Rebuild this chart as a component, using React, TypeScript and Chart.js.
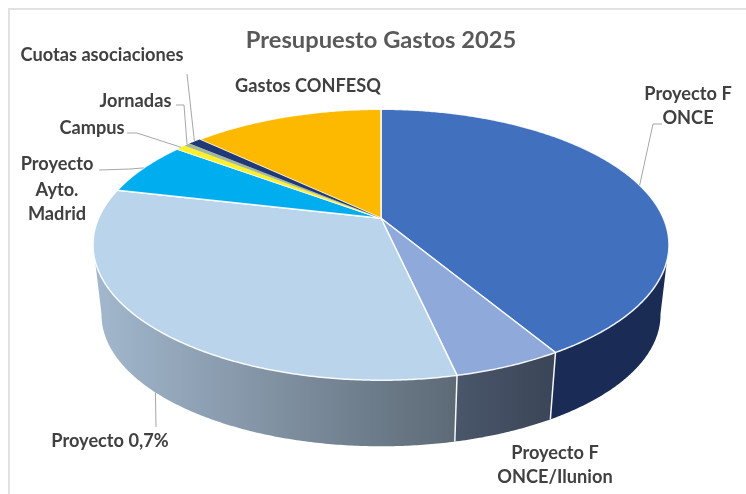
import React, { useEffect, useRef } from "react";
import { Chart, registerables } from "chart.js";

Chart.register(...registerables);

const titleText = "Presupuesto Gastos 2025";
const categories = [
  "Proyecto F ONCE",
  "Proyecto F ONCE/Ilunion",
  "Proyecto 0,7%",
  "Proyecto Ayto. Madrid",
  "Campus",
  "Jornadas",
  "Cuotas asociaciones",
  "Gastos CONFESQ",
];
const shares = [41.4, 5.1, 32.1, 6.5, 0.64, 0.42, 0.83, 13.0];
const topColors = ["#4170BF", "#8FA9DA", "#B9D4EB", "#00AEEF", "#FFF02A", "#A5B89A", "#203A78", "#FDB900"];
const wallColors: [string, string][] = [
  ["#1A2C56", "#1A2C54"],
  ["#4A5669", "#3A4558"],
  ["#A3B8CE", "#5D6A76"],
];

const labelFont = "bold 18.2px Lato";
const labelColor = "#404040";
const leaderColor = "#A6A6A6";

const labelBlocks = [
  { lines: ["Proyecto F", "ONCE"], x: 688, y: [94, 118], slice: 0 },
  { lines: ["Proyecto F", "ONCE/Ilunion"], x: 555, y: [453, 477], slice: 1 },
  { lines: ["Proyecto 0,7%"], x: 110, y: [441], slice: 2 },
  { lines: ["Proyecto", "Ayto.", "Madrid"], x: 57, y: [164, 190, 214], slice: 3 },
  { lines: ["Campus"], x: 92, y: [128], slice: 4 },
  { lines: ["Jornadas"], x: 135.5, y: [101], slice: 5 },
  { lines: ["Cuotas asociaciones"], x: 102, y: [55], slice: 6 },
  { lines: ["Gastos CONFESQ"], x: 308, y: [86], slice: 7 },
];
// leader line start/elbow points (slice index -> polyline; the far end comes from the slice itself)
const leaders: { slice: number; pts: [number, number][]; wall?: boolean }[] = [
  { slice: 0, pts: [[662, 124], [653, 124]] },
  { slice: 2, pts: [[156, 427]], wall: true },
  { slice: 3, pts: [[99, 170], [130, 169]] },
  { slice: 4, pts: [[127, 133], [137, 133]] },
  { slice: 5, pts: [[176, 105], [184, 105]] },
  { slice: 6, pts: [[187, 74]] },
];

// perspective of the pie disc
const persp = { a: 130.3, b: 282.4, k: 0.1956, vpOffset: 2409, wallScale: 0.9706 };
const wallFrom = (101 * Math.PI) / 180;
const wallTo = (259 * Math.PI) / 180;

const pie3d = {
  id: "pie3d",
  beforeDraw(chart: any) {
    const { ctx } = chart;
    ctx.save();
    ctx.strokeStyle = "#E2E2E2";
    ctx.lineWidth = 2;
    ctx.beginPath();
    ctx.moveTo(746, 9);
    ctx.lineTo(9, 9);
    ctx.lineTo(9, 494);
    ctx.stroke();
    ctx.restore();
  },
  beforeDatasetsDraw(chart: any) {
    const { ctx } = chart;
    const arcs = chart.getDatasetMeta(0).data;
    const cx = arcs[0].x;
    const cy = arcs[0].y;
    const top = (t: number): [number, number] => {
      const u = Math.sin(t);
      const v = -Math.cos(t);
      const d = 1 - persp.k * v;
      return [cx + (persp.b * u) / d, cy + (persp.a * v) / d];
    };
    const vpY = cy + persp.vpOffset;
    const low = (t: number): [number, number] => {
      const [x, y] = top(t);
      return [cx + (x - cx) * persp.wallScale, vpY - (vpY - y) * persp.wallScale];
    };
    const from = (a: any) => a.startAngle + Math.PI / 2;
    const to = (a: any) => a.endAngle + Math.PI / 2;
    const step = Math.PI / 360;

    // walls
    arcs.forEach((arc: any, i: number) => {
      const s = Math.max(from(arc), wallFrom);
      const e = Math.min(to(arc), wallTo);
      if (e <= s || !wallColors[i]) return;
      const upper: [number, number][] = [];
      const lower: [number, number][] = [];
      for (let t = s; t < e; t += step) {
        upper.push(top(t));
        lower.push(low(t));
      }
      upper.push(top(e));
      lower.push(low(e));
      const xs = upper.concat(lower).map((p) => p[0]);
      const g = ctx.createLinearGradient(Math.min(...xs), 0, Math.max(...xs), 0);
      g.addColorStop(0, wallColors[i][0]);
      g.addColorStop(1, wallColors[i][1]);
      ctx.beginPath();
      upper.forEach((p, n) => (n ? ctx.lineTo(p[0], p[1]) : ctx.moveTo(p[0], p[1])));
      lower.reverse().forEach((p) => ctx.lineTo(p[0], p[1]));
      ctx.closePath();
      ctx.fillStyle = g;
      ctx.fill();
    });
    // wall seams
    ctx.strokeStyle = "#F4F6F8";
    ctx.lineWidth = 1.5;
    arcs.forEach((arc: any) => {
      const t = to(arc);
      if (t > wallFrom && t < wallTo) {
        const p = top(t);
        const q = low(t);
        ctx.beginPath();
        ctx.moveTo(p[0], p[1]);
        ctx.lineTo(q[0], q[1]);
        ctx.stroke();
      }
    });

    // top faces: white seam first, thin slices painted over it so they stay visible
    const face = (arc: any) => {
      const s = from(arc);
      const e = to(arc);
      ctx.beginPath();
      ctx.moveTo(cx, cy);
      for (let t = s; t < e; t += step) {
        const p = top(t);
        ctx.lineTo(p[0], p[1]);
      }
      const p = top(e);
      ctx.lineTo(p[0], p[1]);
      ctx.closePath();
    };
    arcs.forEach((arc: any) => {
      face(arc);
      ctx.fillStyle = arc.options.backgroundColor;
      ctx.fill();
      ctx.strokeStyle = "rgba(255,255,255,0.9)";
      ctx.lineWidth = 1.5;
      ctx.lineJoin = "round";
      ctx.stroke();
    });
    arcs.forEach((arc: any) => {
      if (to(arc) - from(arc) < 0.1) {
        face(arc);
        ctx.fillStyle = arc.options.backgroundColor;
        ctx.fill();
      }
    });

    // leaders
    ctx.strokeStyle = leaderColor;
    ctx.lineWidth = 1;
    leaders.forEach((l) => {
      const arc = arcs[l.slice];
      const mid = (from(arc) + to(arc)) / 2;
      const end = l.wall ? low(mid) : top(mid);
      ctx.beginPath();
      l.pts.forEach((p, n) => (n ? ctx.lineTo(p[0], p[1]) : ctx.moveTo(p[0], p[1])));
      ctx.lineTo(end[0], end[1]);
      ctx.stroke();
    });

    // labels
    ctx.font = labelFont;
    ctx.fillStyle = labelColor;
    ctx.textAlign = "center";
    ctx.textBaseline = "middle";
    labelBlocks.forEach((b) => {
      b.lines.forEach((line, n) => ctx.fillText(line, b.x, b.y[n]));
    });
    return false;
  },
};

export default function App() {
  const ref = useRef<HTMLCanvasElement>(null);
  useEffect(() => {
    document.body.style.margin = "0";
    const chart = new Chart(ref.current!, {
      type: "pie",
      data: {
        labels: categories,
        datasets: [{ data: shares, backgroundColor: topColors, borderWidth: 0 }],
      },
      options: {
        responsive: false,
        animation: false,
        layout: { padding: { left: 16, right: 0, top: 0, bottom: 112 } },
        plugins: {
          legend: { display: false },
          tooltip: { enabled: false },
          title: {
            display: true,
            text: titleText,
            color: "#595959",
            font: { family: "Lato", size: 23.7, weight: "bold" },
            padding: { top: 26, bottom: 0 },
          },
        },
      },
      plugins: [pie3d],
    } as any);
    return () => chart.destroy();
  }, []);
  return <canvas ref={ref} width={746} height={494} style={{ display: "block" }} />;
}
